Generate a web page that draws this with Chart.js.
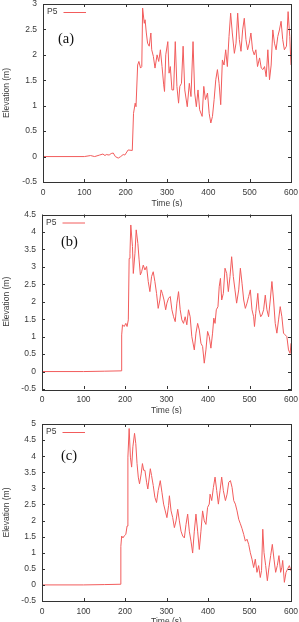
<!DOCTYPE html>
<html>
<head>
<meta charset="utf-8">
<script src="https://cdn.jsdelivr.net/npm/chart.js@4.4.0/dist/chart.umd.min.js"></script>
<style>
  html, body { margin: 0; padding: 0; background: #fff; overflow: hidden; width: 299px; height: 622px; }
  .panel { position: absolute; left: 0; width: 299px; }
  .panel canvas { display: block; }
</style>
</head>
<body>
<div class="panel" style="top:0px;height:207px"><canvas id="chartA" width="299" height="207"></canvas></div>
<div class="panel" style="top:207px;height:207px"><canvas id="chartB" width="299" height="207"></canvas></div>
<div class="panel" style="top:414px;height:211px"><canvas id="chartC" width="299" height="211"></canvas></div>

<script>
// ==================== DATA ====================
// Wave elevation at gauge P5

const seriesLabel = 'P5';
const timeTicks = [0, 100, 200, 300, 400, 500, 600];
const elevTicksA = [-0.5, 0, 0.5, 1, 1.5, 2, 2.5, 3];
const elevTicksB = [-0.5, 0, 0.5, 1, 1.5, 2, 2.5, 3, 3.5, 4, 4.5];
const elevTicksC = [-0.5, 0, 0.5, 1, 1.5, 2, 2.5, 3, 3.5, 4, 4.5, 5];

// (a)
const timeA = [0, 100, 115, 125, 137, 145, 150, 153, 160, 165, 170, 175, 182, 188, 194, 198, 206, 216,
  219, 223, 225, 229, 232, 236, 239, 241, 245, 247, 250, 253, 257, 261, 263, 267, 271, 276, 280, 284, 288,
  292, 294, 297, 302, 305, 308, 312, 316, 320, 324, 328, 331, 335, 339, 343, 349, 354, 358, 363, 367, 371,
  375, 379, 385, 389, 393, 398, 402, 406, 410, 414, 418, 422, 426, 430, 434, 438, 442, 446, 450, 454, 458,
  463, 467, 471, 475, 479, 483, 487, 491, 495, 499, 503, 507, 511, 515, 519, 524, 528, 532, 536, 540, 544,
  548, 552, 556, 560, 564, 568, 572, 576, 580, 584, 589, 593, 597, 600];
const elevA = [0, 0, 0.02, 0, 0.03, 0.05, 0.02, 0.04, 0.03, 0.06, 0.07, 0, -0.03, 0, 0.04, 0.03, 0.13, 0.12,
  0.85, 1.05, 0.98, 1.80, 1.87, 1.74, 1.77, 2.92, 2.62, 2.69, 2.43, 2.23, 2.17, 2.43, 2.10, 1.97, 1.74, 2.00, 1.87, 2.10, 1.77,
  1.41, 1.28, 2.00, 2.26, 1.64, 1.77, 1.31, 1.31, 2.26, 1.38, 1.05, 1.38, 1.44, 2.17, 1.31, 0.98, 1.44, 1.18, 2.26, 1.25, 0.98,
  1.31, 0.92, 0.79, 1.38, 1.12, 1.25, 0.85, 0.66, 0.79, 1.12, 1.51, 1.71, 1.44, 1.02, 1.90, 1.80, 2.10, 1.77, 2.36, 2.82, 2.43,
  2.03, 2.23, 2.82, 2.30, 2.07, 2.49, 2.72, 2.30, 2.10, 2.23, 2.43, 2.10, 2.00, 2.10, 1.77, 1.94, 1.74, 1.71, 1.77, 1.57, 2.10,
  1.51, 1.80, 2.49, 2.23, 2.10, 2.36, 2.49, 2.66, 2.30, 2.10, 2.17, 2.85, 2.36, 1.80];

// (b)
const timeB = [0, 100, 150, 191, 192, 194, 198, 202, 205, 208, 210, 212, 214, 218, 220, 224, 227, 231, 234,
  237, 240, 244, 248, 252, 256, 260, 264, 268, 272, 276, 280, 284, 287, 290, 294, 298, 301, 305, 309, 313,
  317, 321, 325, 329, 333, 337, 341, 345, 349, 353, 357, 361, 367, 371, 375, 379, 383, 387, 391, 395, 399,
  403, 407, 411, 414, 417, 420, 424, 427, 430, 433, 437, 441, 445, 449, 453, 457, 461, 465, 469, 474, 478,
  482, 486, 490, 494, 498, 502, 506, 510, 512, 515, 520, 523, 527, 530, 534, 538, 542, 546, 550, 554, 558,
  562, 566, 570, 574, 578, 582, 586, 590, 594, 598, 600];
const elevB = [0, 0, 0.01, 0.02, 1.05, 1.34, 1.29, 1.38, 1.29, 1.48, 3.24, 3.39, 4.20, 3.58, 2.81, 3.39, 4.06, 3.67, 3.20,
  2.77, 2.86, 3.05, 2.91, 3.01, 2.58, 2.29, 2.72, 2.86, 2.58, 2.24, 1.81, 2.05, 2.34, 2.24, 2.05, 1.77, 1.96, 2.10, 2.15, 1.77,
  1.57, 1.43, 1.96, 2.29, 1.77, 1.48, 1.38, 1.57, 1.34, 1.77, 1.57, 1.00, 0.62, 1.10, 1.38, 1.19, 0.81, 0.72, 0.24, 0.62, 1.15,
  1.00, 0.67, 1.10, 1.53, 1.38, 1.77, 1.86, 2.43, 2.67, 2.05, 2.24, 2.96, 2.81, 2.29, 2.72, 3.29, 2.72, 2.34, 1.96, 2.34, 2.96,
  2.53, 2.05, 1.81, 1.96, 2.15, 2.34, 1.77, 1.57, 1.29, 1.67, 2.24, 1.77, 1.57, 1.62, 1.77, 2.19, 1.77, 1.57, 2.05, 2.58, 2.05,
  1.38, 1.10, 1.48, 1.86, 1.57, 1.10, 1.05, 1.00, 0.62, 0.52, 0.81];

// (c)
const timeC = [0, 100, 150, 188, 190, 192, 195, 198, 202, 205, 207, 210, 213, 216, 219, 223, 226, 229, 232,
  235, 239, 242, 245, 248, 252, 255, 258, 261, 264, 268, 272, 276, 280, 285, 289, 293, 297, 301, 305, 307,
  311, 315, 319, 323, 327, 331, 335, 339, 343, 347, 351, 355, 359, 363, 367, 371, 375, 379, 383, 387, 391,
  395, 399, 403, 405, 409, 413, 417, 421, 425, 429, 433, 437, 442, 446, 450, 454, 458, 462, 466, 470, 474,
  478, 482, 486, 490, 494, 498, 502, 506, 510, 514, 518, 522, 526, 529, 532, 535, 539, 543, 547, 551, 555,
  559, 563, 567, 571, 575, 578, 580, 584, 588, 592, 596, 600];
const elevC = [0, 0, 0.01, 0.02, 1.20, 1.52, 1.46, 1.52, 1.57, 1.83, 3.97, 4.86, 3.97, 3.66, 4.29, 4.71, 4.39, 3.77, 3.35,
  3.14, 3.45, 3.77, 3.56, 3.56, 3.19, 2.98, 3.29, 3.61, 3.40, 3.09, 2.72, 2.56, 2.93, 3.24, 2.88, 2.51, 2.30, 2.09, 2.46, 2.77,
  2.30, 2.09, 1.78, 1.99, 2.35, 1.99, 1.67, 1.52, 1.46, 1.88, 2.20, 1.67, 1.36, 0.99, 1.67, 2.20, 1.67, 1.10, 1.67, 2.30, 1.99,
  1.88, 2.41, 2.51, 2.82, 2.62, 3.03, 3.35, 2.93, 2.51, 2.93, 3.35, 2.93, 2.62, 2.82, 3.19, 3.24, 3.03, 2.62, 2.51, 2.30, 2.04,
  1.90, 1.75, 1.57, 1.36, 1.42, 1.26, 1.00, 0.80, 0.54, 0.80, 0.39, 0.60, 0.23, 0.45, 1.73, 1.00, 0.60, 0.13, 0.55, 0.91, 1.26,
  0.80, 0.39, 0.60, 0.91, 0.39, 0.55, 0.76, 0.08, 0.39, 0.50, 0.60, 0.44];

// ==================== STYLE ====================
const LINE_COLOR = 'rgb(242, 92, 92)';
const TEXT_COLOR = '#3a3a3a';
const FRAME_COLOR = '#333';
const SANS = '"Liberation Sans", Arial, sans-serif';
const SERIF = '"Liberation Serif", "Times New Roman", serif';

// Frame, inward ticks on all four sides, gnuplot-style key and panel letter
const panelDecor = {
    id: 'panelDecor',
    afterDraw(chart, args, opts) {
        const { ctx, chartArea: area, scales } = chart;
        const tl = 3;
        ctx.save();
        ctx.strokeStyle = FRAME_COLOR;
        ctx.lineWidth = 1;

        ctx.beginPath();
        scales.x.ticks.forEach(t => {
            const px = Math.round(scales.x.getPixelForValue(t.value)) + 0.5;
            ctx.moveTo(px, area.bottom); ctx.lineTo(px, area.bottom - tl);
            ctx.moveTo(px, area.top); ctx.lineTo(px, area.top + tl);
        });
        scales.y.ticks.forEach(t => {
            const py = Math.round(scales.y.getPixelForValue(t.value)) + 0.5;
            ctx.moveTo(area.left, py); ctx.lineTo(area.left + tl, py);
            ctx.moveTo(area.right, py); ctx.lineTo(area.right - tl, py);
        });
        ctx.stroke();

        ctx.strokeRect(Math.round(area.left) + 0.5, Math.round(area.top) + 0.5,
            Math.round(area.right - area.left), Math.round(area.bottom - area.top));

        // key: "P5 ——"
        const ds = chart.data.datasets[0];
        const ky = area.top + 8;
        ctx.fillStyle = TEXT_COLOR;
        ctx.font = '8.5px ' + SANS;
        ctx.textAlign = 'right';
        ctx.textBaseline = 'middle';
        ctx.fillText(ds.label, area.left + 14.5, ky);
        ctx.strokeStyle = ds.borderColor;
        ctx.beginPath();
        ctx.moveTo(area.left + 20.5, ky + 0.5);
        ctx.lineTo(area.left + 43, ky + 0.5);
        ctx.stroke();

        // panel letter
        ctx.fillStyle = '#111';
        ctx.font = '14.5px ' + SERIF;
        ctx.textAlign = 'left';
        ctx.fillText(opts.letter, area.left + opts.dx, area.top + opts.dy);
        ctx.restore();
    }
};

function makePanel(id, times, values, elevTicks, geo) {
    const points = times.map((t, i) => ({ x: t, y: values[i] }));
    return new Chart(document.getElementById(id), {
        type: 'line',
        data: {
            datasets: [{
                label: seriesLabel,
                data: points,
                borderColor: LINE_COLOR,
                borderWidth: 1,
                pointRadius: 0,
                tension: 0,
                fill: false
            }]
        },
        options: {
            responsive: false,
            animation: false,
            devicePixelRatio: 1,
            layout: { padding: { top: geo.padTop, right: geo.padRight, left: 0, bottom: 0 } },
            plugins: {
                legend: { display: false },
                tooltip: { enabled: false },
                panelDecor: { letter: geo.letter, dx: geo.letterDx, dy: geo.letterDy }
            },
            scales: {
                x: {
                    type: 'linear',
                    min: timeTicks[0],
                    max: timeTicks[timeTicks.length - 1],
                    grid: { display: false, drawTicks: false },
                    border: { display: false },
                    ticks: {
                        padding: 6,
                        color: TEXT_COLOR,
                        font: { family: SANS, size: 8.5 },
                        autoSkip: false,
                        maxRotation: 0,
                        callback: v => String(v)
                    },
                    title: {
                        display: true,
                        text: 'Time (s)',
                        color: TEXT_COLOR,
                        font: { family: SANS, size: 8.5 },
                        padding: { top: 0, bottom: -1.5 }
                    },
                    afterBuildTicks: s => { s.ticks = timeTicks.map(v => ({ value: v })); },
                    afterFit: s => { s.height = geo.xHeight; s.paddingLeft = 0; s.paddingRight = 0; }
                },
                y: {
                    type: 'linear',
                    min: elevTicks[0],
                    max: elevTicks[elevTicks.length - 1],
                    grid: { display: false, drawTicks: false },
                    border: { display: false },
                    ticks: {
                        padding: 6,
                        color: TEXT_COLOR,
                        font: { family: SANS, size: 8.5 },
                        autoSkip: false,
                        callback: v => String(v)
                    },
                    title: {
                        display: true,
                        text: 'Elevation (m)',
                        color: TEXT_COLOR,
                        font: { family: SANS, size: 8.5 },
                        padding: { top: 2, bottom: 0 }
                    },
                    afterBuildTicks: s => { s.ticks = elevTicks.map(v => ({ value: v })); },
                    afterFit: s => { s.width = geo.yWidth; s.paddingTop = 0; s.paddingBottom = 0; }
                }
            }
        },
        plugins: [panelDecor]
    });
}

makePanel('chartA', timeA, elevA, elevTicksA,
    { padTop: 4, padRight: 8, xHeight: 25, yWidth: 43, letter: '(a)', letterDx: 15, letterDy: 35 });
makePanel('chartB', timeB, elevB, elevTicksB,
    { padTop: 7.5, padRight: 8, xHeight: 25, yWidth: 42, letter: '(b)', letterDx: 19, letterDy: 28 });
makePanel('chartC', timeC, elevC, elevTicksC,
    { padTop: 10, padRight: 8, xHeight: 24, yWidth: 42, letter: '(c)', letterDx: 19, letterDy: 32 });
</script>
</body>
</html>
